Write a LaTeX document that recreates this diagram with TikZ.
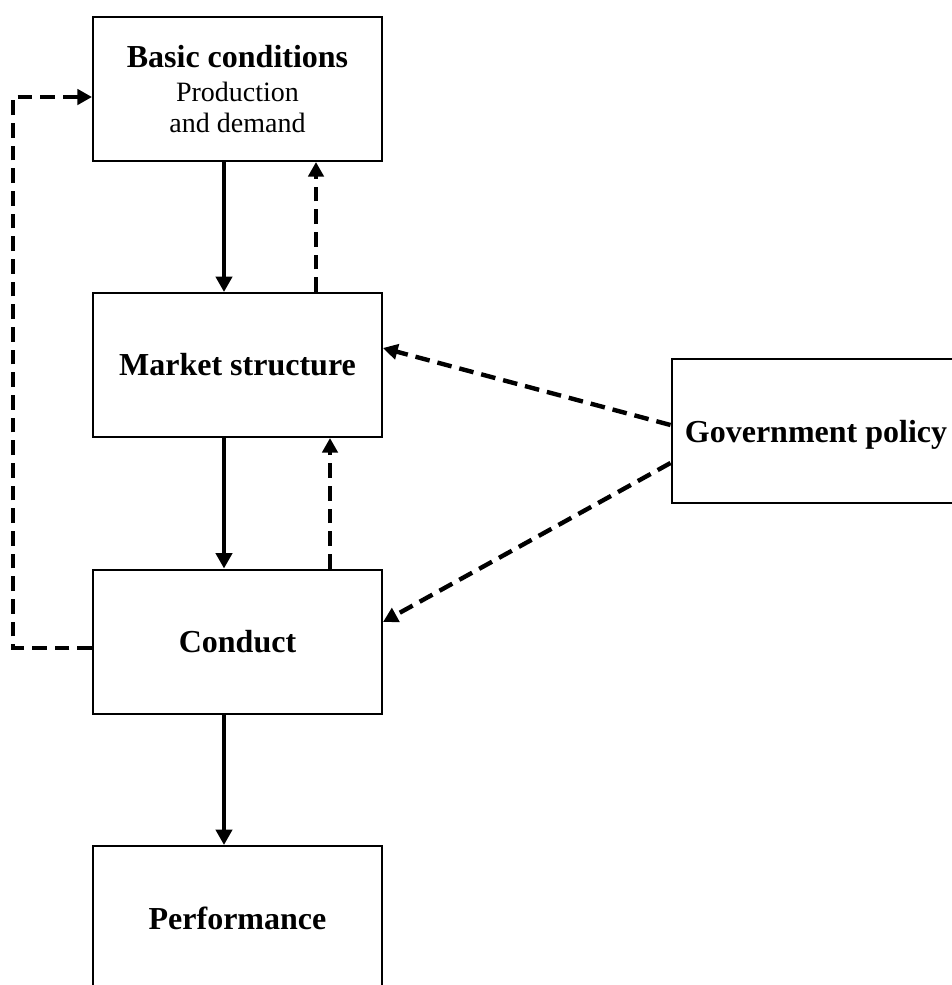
\documentclass[tikz,border=0pt]{standalone}
\usepackage{fontspec}
\setmainfont{Liberation Serif}
\usetikzlibrary{arrows.meta}
\begin{document}
\begin{tikzpicture}[x=0.75pt,y=-0.75pt,
  box/.style={draw,line width=1.5pt,minimum width=216.75pt,minimum height=108pt,
    inner sep=0pt,align=center,font=\fontsize{24}{28}\selectfont\bfseries},
  flow/.style={line width=3.3pt,-{Triangle[width=12pt,length=11.5pt]}},
  feedback/.style={line width=3.3pt,-{Triangle[width=11.5pt,length=11pt]},
    dash pattern=on 11pt off 6pt}]
\useasboundingbox (0,0) rectangle (952,985);
\clip (0,0) rectangle (952,985);

% boxes
\node[box,font=\fontsize{21}{23.25}\selectfont] (basic) at (237.5,89)
  {{\fontsize{24}{23.25}\selectfont\bfseries Basic conditions}\\[2.25pt]Production\\and demand};
\node[box] (market) at (237.5,365) {Market structure};
\node[box] (conduct) at (237.5,641.5) {Conduct};
\node[box] (perf) at (237.5,918) {Performance};
\node[box,text depth=0pt] (gov) at (816,431) {Government policy};

% helper coordinates for connector positions
\coordinate (colA) at (224,0);
\coordinate (colB) at (316,0);
\coordinate (colC) at (330,0);
\coordinate (loopx) at (13,0);
\coordinate (loopbot) at (0,648);
\coordinate (looptop) at (0,97);
\coordinate (g1) at (0,425);
\coordinate (g2) at (0,463);
\coordinate (m1) at (0,348);
\coordinate (c1) at (0,622);

% main causal chain
\draw[flow] (basic.south -| colA) -- (market.north -| colA);
\draw[flow] (market.south -| colA) -- (conduct.north -| colA);
\draw[flow] (conduct.south -| colA) -- (perf.north -| colA);

% feedback links
\draw[feedback] (market.north -| colB) -- (basic.south -| colB);
\draw[feedback] (conduct.north -| colC) -- (market.south -| colC);
\draw[feedback] (conduct.west |- loopbot) -| (loopx |- looptop) -- (basic.west |- looptop);

% policy influences
\draw[feedback] (gov.west |- g1) -- (market.east |- m1);
\draw[feedback] (gov.west |- g2) -- (conduct.east |- c1);
\end{tikzpicture}
\end{document}
